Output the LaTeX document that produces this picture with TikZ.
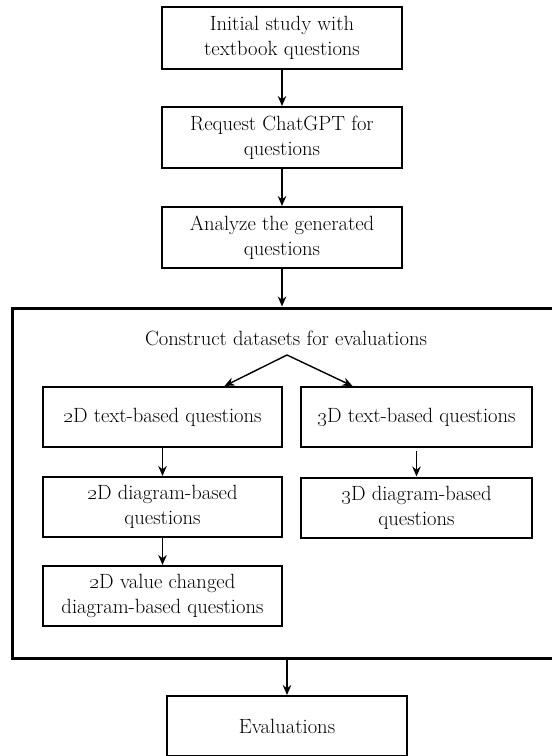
\documentclass[tikz,border=0pt]{standalone}
\usepackage{tikz}
\usetikzlibrary{arrows.meta,calc}

\begin{document}
\begin{tikzpicture}[x=1pt,y=-1pt,
    box/.style={draw,line width=2pt,align=center,minimum height=60pt,inner sep=0pt,
      font=\fontsize{20.6}{25}\selectfont},
    wide/.style={box,minimum width=240pt},
    flow/.style={line width=1.4pt,-{Stealth[length=10pt,width=8.5pt]}}]
    \clip (0,0) rectangle (552,756);
    \node[wide,minimum height=62pt] (init) at (282,38) {Initial study with\\textbook questions};
    \node[wide,minimum height=61pt] (request) at (282,137.5) {Request ChatGPT for\\questions};
    \node[wide,minimum height=61pt] (analyze) at (282,237.5) {Analyze the generated\\questions};
    \node[draw,line width=3pt,minimum width=550pt,minimum height=350pt,inner sep=0pt] (frame) at (287,483) {};
    \node[font=\fontsize{20.6}{25}\selectfont] (construct) at (286,338) {Construct datasets for evaluations};
    \coordinate (split) at (287,355);
    \node[box,minimum width=239pt] (t2d) at (162.5,417) {\oldstylenums{2}D text-based questions};
    \node[box,minimum width=231pt] (t3d) at (416.5,417) {\oldstylenums{3}D text-based questions};
    \node[box,minimum width=239pt] (d2d) at (162.5,507) {\oldstylenums{2}D diagram-based\\questions};
    \node[box,minimum width=231pt] (d3d) at (416.5,507.5) {\oldstylenums{3}D diagram-based\\questions};
    \node[box,minimum width=239pt] (v2d) at (162.5,596) {\oldstylenums{2}D value changed\\diagram-based questions};
    \node[wide,minimum height=60pt] (eval) at (287,726) {Evaluations};
    \draw[flow] (init) -- (request);
    \draw[flow] (request) -- (analyze);
    \draw[flow] (analyze) -- (analyze |- frame.north);
    \draw[flow] (split) -- ([xshift=62pt]t2d.north);
    \draw[flow] (split) -- ([xshift=-64pt]t3d.north);
    \draw[flow] (t2d) -- (d2d);
    \draw[flow] ([yshift=-3pt]t3d.south) -- (d3d);
    \draw[flow] (d2d) -- (v2d);
    \draw[flow] (frame.south -| eval) -- (eval);
\end{tikzpicture}
\end{document}
